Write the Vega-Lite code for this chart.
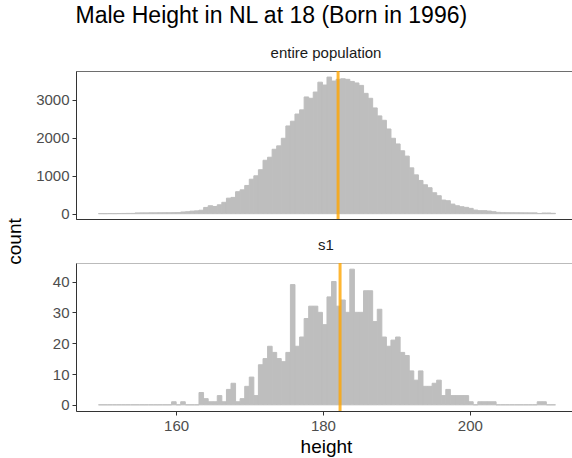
{
  "$schema": "https://vega.github.io/schema/vega-lite/v6.json",
  "padding": {"left": 4, "top": 5, "right": 0, "bottom": 0},
  "background": "white",
  "title": {"text": "Male Height in NL at 18 (Born in 1996)", "anchor": "start", "fontSize": 23, "fontWeight": "normal", "color": "black", "font": "Liberation Sans", "dx": 71, "offset": 17},
  "datasets": {
    "pop": [
      {"h":149.36,"n":3},{"h":149.98,"n":2},{"h":150.60,"n":4},{"h":151.23,"n":3},{"h":151.85,"n":5},{"h":152.47,"n":6},{"h":153.09,"n":8},{"h":153.72,"n":8},{"h":154.34,"n":20},{"h":154.96,"n":22},
      {"h":155.58,"n":22},{"h":156.21,"n":24},{"h":156.83,"n":24},{"h":157.45,"n":25},{"h":158.07,"n":26},{"h":158.70,"n":26},{"h":159.32,"n":28},{"h":159.94,"n":30},{"h":160.56,"n":45},{"h":161.19,"n":52},
      {"h":161.81,"n":68},{"h":162.43,"n":75},{"h":163.05,"n":92},{"h":163.68,"n":165},{"h":164.30,"n":210},{"h":164.92,"n":190},{"h":165.54,"n":235},{"h":166.16,"n":300},{"h":166.79,"n":410},{"h":167.41,"n":430},
      {"h":168.03,"n":580},{"h":168.65,"n":630},{"h":169.28,"n":745},{"h":169.90,"n":910},{"h":170.52,"n":1000},{"h":171.14,"n":1160},{"h":171.77,"n":1410},{"h":172.39,"n":1490},{"h":173.01,"n":1700},{"h":173.63,"n":1790},
      {"h":174.26,"n":1990},{"h":174.88,"n":2315},{"h":175.50,"n":2440},{"h":176.12,"n":2630},{"h":176.75,"n":2740},{"h":177.37,"n":3080},{"h":177.99,"n":3045},{"h":178.61,"n":3210},{"h":179.24,"n":3470},{"h":179.86,"n":3395},
      {"h":180.48,"n":3605},{"h":181.10,"n":3500},{"h":181.72,"n":3545},{"h":182.35,"n":3560},{"h":182.97,"n":3545},{"h":183.59,"n":3490},{"h":184.21,"n":3450},{"h":184.84,"n":3385},{"h":185.46,"n":3175},{"h":186.08,"n":3045},
      {"h":186.70,"n":2790},{"h":187.33,"n":2580},{"h":187.95,"n":2465},{"h":188.57,"n":2235},{"h":189.19,"n":1990},{"h":189.82,"n":1840},{"h":190.44,"n":1660},{"h":191.06,"n":1520},{"h":191.68,"n":1210},{"h":192.31,"n":1025},
      {"h":192.93,"n":877},{"h":193.55,"n":763},{"h":194.17,"n":685},{"h":194.80,"n":553},{"h":195.42,"n":474},{"h":196.04,"n":360},{"h":196.66,"n":342},{"h":197.28,"n":254},{"h":197.91,"n":210},{"h":198.53,"n":184},
      {"h":199.15,"n":167},{"h":199.77,"n":140},{"h":200.40,"n":96},{"h":201.02,"n":80},{"h":201.64,"n":80},{"h":202.26,"n":70},{"h":202.89,"n":53},{"h":203.51,"n":35},{"h":204.13,"n":28},{"h":204.75,"n":27},
      {"h":205.38,"n":26},{"h":206.00,"n":25},{"h":206.62,"n":24},{"h":207.24,"n":23},{"h":207.87,"n":22},{"h":208.49,"n":22},{"h":209.11,"n":6},{"h":209.73,"n":18},{"h":210.36,"n":18},{"h":210.98,"n":10}
    ],
    "s1": [
      {"h":149.36,"n":0},{"h":149.98,"n":0},{"h":150.60,"n":0},{"h":151.23,"n":0},{"h":151.85,"n":0},{"h":152.47,"n":0},{"h":153.09,"n":0},{"h":153.72,"n":0},{"h":154.34,"n":0},{"h":154.96,"n":0},
      {"h":155.58,"n":0},{"h":156.21,"n":0},{"h":156.83,"n":0},{"h":157.45,"n":0},{"h":158.07,"n":0},{"h":158.70,"n":0},{"h":159.32,"n":1},{"h":159.94,"n":0},{"h":160.56,"n":1},{"h":161.19,"n":0},
      {"h":161.81,"n":0},{"h":162.43,"n":0},{"h":163.05,"n":4},{"h":163.68,"n":2},{"h":164.30,"n":1},{"h":164.92,"n":1},{"h":165.54,"n":3},{"h":166.16,"n":1},{"h":166.79,"n":5},{"h":167.41,"n":7},
      {"h":168.03,"n":1},{"h":168.65,"n":2},{"h":169.28,"n":6},{"h":169.90,"n":9},{"h":170.52,"n":3},{"h":171.14,"n":13},{"h":171.77,"n":15},{"h":172.39,"n":19},{"h":173.01,"n":17},{"h":173.63,"n":15},
      {"h":174.26,"n":14},{"h":174.88,"n":17},{"h":175.50,"n":39},{"h":176.12,"n":19},{"h":176.75,"n":22},{"h":177.37,"n":28},{"h":177.99,"n":32},{"h":178.61,"n":32},{"h":179.24,"n":30},{"h":179.86,"n":26},
      {"h":180.48,"n":35},{"h":181.10,"n":40},{"h":181.72,"n":32},{"h":182.35,"n":34},{"h":182.97,"n":30},{"h":183.59,"n":44},{"h":184.21,"n":30},{"h":184.84,"n":30},{"h":185.46,"n":37},{"h":186.08,"n":37},
      {"h":186.70,"n":27},{"h":187.33,"n":31},{"h":187.95,"n":22},{"h":188.57,"n":19},{"h":189.19,"n":21},{"h":189.82,"n":22},{"h":190.44,"n":17},{"h":191.06,"n":16},{"h":191.68,"n":11},{"h":192.31,"n":8},
      {"h":192.93,"n":11},{"h":193.55,"n":6},{"h":194.17,"n":6},{"h":194.80,"n":7},{"h":195.42,"n":8},{"h":196.04,"n":3},{"h":196.66,"n":5},{"h":197.28,"n":3},{"h":197.91,"n":3},{"h":198.53,"n":3},
      {"h":199.15,"n":3},{"h":199.77,"n":1},{"h":200.40,"n":0},{"h":201.02,"n":1},{"h":201.64,"n":1},{"h":202.26,"n":1},{"h":202.89,"n":1},{"h":203.51,"n":0},{"h":204.13,"n":0},{"h":204.75,"n":0},
      {"h":205.38,"n":0},{"h":206.00,"n":0},{"h":206.62,"n":0},{"h":207.24,"n":0},{"h":207.87,"n":0},{"h":208.49,"n":0},{"h":209.11,"n":1},{"h":209.73,"n":1},{"h":210.36,"n":0},{"h":210.98,"n":0}
    ],
    "means": [
      {"panel": "entire population", "mean": 182.06},
      {"panel": "s1", "mean": 182.33}
    ]
  },
  "bounds": "flush",
  "spacing": 44,
  "vconcat": [
    {
      "width": 500, "height": 148,
      "title": {"text": "entire population", "fontSize": 15, "fontWeight": "normal", "color": "#1A1A1A", "anchor": "middle", "offset": 9, "font": "Liberation Sans"},
      "view": {"stroke": "#6E6E6E"},
      "layer": [
        {
          "data": {"name": "pop"},
          "mark": {"type": "bar", "binSpacing": 0, "fill": "#BEBEBE", "stroke": "#BEBEBE", "strokeWidth": 1},
          "encoding": {
            "x": {"field": "h", "type": "quantitative", "bin": {"binned": true, "step": 0.6224}, "scale": {"domain": [146.37, 214.46], "nice": false},
                  "axis": {"labels": false, "ticks": false, "domain": true, "title": null}},
            "y": {"field": "n", "type": "quantitative", "scale": {"domain": [-140, 3765], "nice": false},
                  "axis": {"values": [0, 1000, 2000, 3000], "format": "d", "title": "count", "titleX": -56, "titleY": 170, "titleBaseline": "alphabetic"}}
          }
        },
        {
          "data": {"name": "means"},
          "transform": [{"filter": "datum.panel === 'entire population'"}],
          "mark": {"type": "rule", "color": "#FFA500", "strokeWidth": 3, "opacity": 0.8},
          "encoding": {"x": {"field": "mean", "type": "quantitative"}}
        }
      ]
    },
    {
      "width": 500, "height": 148,
      "title": {"text": "s1", "fontSize": 15, "fontWeight": "normal", "color": "#1A1A1A", "anchor": "middle", "offset": 9, "font": "Liberation Sans"},
      "view": {"stroke": "#BBBBBB"},
      "layer": [
        {
          "data": {"name": "s1"},
          "mark": {"type": "bar", "binSpacing": 0, "fill": "#BEBEBE", "stroke": "#BEBEBE", "strokeWidth": 1},
          "encoding": {
            "x": {"field": "h", "type": "quantitative", "bin": {"binned": true, "step": 0.6224}, "scale": {"domain": [146.37, 214.46], "nice": false},
                  "axis": {"values": [160, 180, 200], "format": "d", "title": "height"}},
            "y": {"field": "n", "type": "quantitative", "scale": {"domain": [-2.0, 46.0], "nice": false},
                  "axis": {"values": [0, 10, 20, 30, 40], "format": "d", "title": null}}
          }
        },
        {
          "data": {"name": "means"},
          "transform": [{"filter": "datum.panel === 's1'"}],
          "mark": {"type": "rule", "color": "#FFA500", "strokeWidth": 3, "opacity": 0.8},
          "encoding": {"x": {"field": "mean", "type": "quantitative"}}
        }
      ]
    }
  ],
  "config": {
    "font": "Liberation Sans",
    "axis": {"grid": false, "labelFont": "Liberation Sans", "labelFontSize": 15, "labelColor": "#4D4D4D", "tickColor": "#333333", "domainColor": "#333333", "tickSize": 4, "labelPadding": 3, "titleFont": "Liberation Sans", "titleFontSize": 19, "titleFontWeight": "normal", "titleColor": "black"}
  }
}
